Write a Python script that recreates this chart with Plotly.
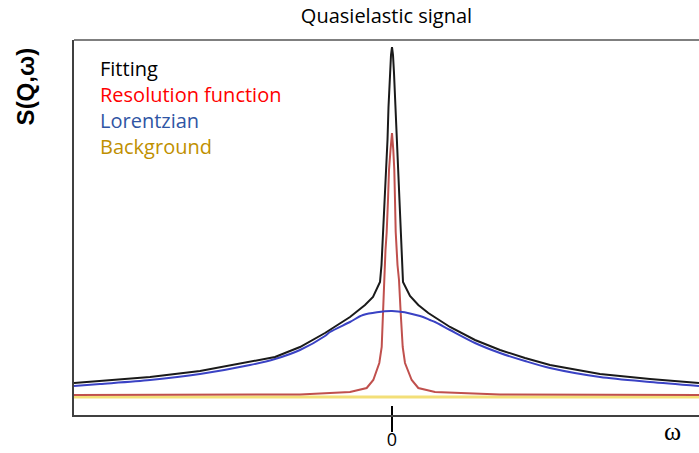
import plotly.graph_objects as go

# ---- data (omega in arbitrary units, intensity in arbitrary units) ----
fit_omega = [-3.18, -2.92, -2.42, -1.92, -1.42, -1.17, -0.92, -0.67, -0.42, -0.37, -0.27, -0.19,
             -0.12, -0.105, -0.09, -0.075, -0.055, -0.045, -0.035, -0.02, -0.01, 0.0,
             0.01, 0.02, 0.035, 0.048, 0.06, 0.075, 0.09, 0.103, 0.11, 0.18, 0.263,
             0.363, 0.58, 0.83, 1.08, 1.33, 1.58, 2.08, 2.58, 3.07]
fit_int = [0.32, 0.34, 0.38, 0.44, 0.53, 0.58, 0.68, 0.82, 0.98, 1.02, 1.10, 1.18,
           1.33, 1.50, 1.83, 2.15, 2.45, 2.75, 3.08, 3.42, 3.60, 3.68,
           3.60, 3.42, 3.08, 2.75, 2.45, 2.15, 1.83, 1.50, 1.33, 1.19, 1.10,
           1.02, 0.88, 0.75, 0.65, 0.57, 0.50, 0.41, 0.36, 0.32]

res_omega = [-3.18, -1.92, -0.92, -0.42, -0.253, -0.187, -0.127, -0.103, -0.087, -0.077,
             -0.065, -0.053, -0.04, -0.03, -0.015, 0.0, 0.013, 0.023, 0.03, 0.037,
             0.055, 0.07, 0.087, 0.107, 0.13, 0.197, 0.263, 0.43, 1.08, 2.08, 3.07]
res_int = [0.20, 0.20, 0.205, 0.23, 0.27, 0.35, 0.52, 0.68, 1.02, 1.35,
           1.65, 1.83, 2.15, 2.45, 2.65, 2.82, 2.65, 2.45, 2.15, 1.83,
           1.50, 1.35, 1.02, 0.68, 0.52, 0.35, 0.27, 0.23, 0.205, 0.20, 0.20]

lor_omega = [-3.18, -2.92, -2.42, -1.92, -1.42, -1.17, -0.92, -0.67, -0.62, -0.42, -0.29, 0.0,
             0.28, 0.38, 0.43, 0.58, 0.83, 1.08, 1.33, 1.58, 2.08, 2.58, 3.07]
lor_int = [0.29, 0.31, 0.35, 0.41, 0.50, 0.56, 0.65, 0.79, 0.83, 0.93, 1.00, 1.04,
           0.99, 0.95, 0.93, 0.85, 0.72, 0.62, 0.54, 0.47, 0.38, 0.33, 0.29]

bg_omega = [-3.18, 3.07]
bg_int = [0.18, 0.18]

legend_labels = ["Fitting", "Resolution function", "Lorentzian", "Background"]
legend_colors = ["#000000", "#ff0000", "#2f55a4", "#bf9000"]

x_range = [-3.18, 3.07]
y_range = [0, 3.75]

fig = go.Figure()
fig.add_trace(go.Scatter(x=bg_omega, y=bg_int, mode="lines",
                         line=dict(color="#f3df78", width=3), hoverinfo="skip"))
fig.add_trace(go.Scatter(x=res_omega, y=res_int, mode="lines",
                         line=dict(color="#c0504d", width=2), hoverinfo="skip"))
fig.add_trace(go.Scatter(x=lor_omega, y=lor_int, mode="lines", line_shape="spline",
                         line=dict(color="#3a42c4", width=2, smoothing=0.8), hoverinfo="skip"))
fig.add_trace(go.Scatter(x=fit_omega, y=fit_int, mode="lines",
                         line=dict(color="#1a1a1a", width=2), hoverinfo="skip"))

legend_text = "<br>".join(
    f"<span style='color:{c}'>{t}</span>" for t, c in zip(legend_labels, legend_colors))

annotations = [
    dict(text=legend_text, x=0.038, y=0.821, xref="paper", yref="paper",
         xanchor="left", yanchor="middle", align="left", showarrow=False,
         font=dict(family="Open Sans", size=20, color="#000")),
    dict(text="ω", x=0.958, y=-0.045, xref="paper", yref="paper",
         xanchor="center", yanchor="middle", showarrow=False,
         font=dict(family="Liberation Serif", size=26, color="#000")),
    dict(text="<b>S(Q,ω)</b>", x=-0.078, y=0.877, xref="paper", yref="paper",
         xanchor="center", yanchor="middle", showarrow=False, textangle=-90,
         font=dict(family="Liberation Sans", size=24, color="#000")),
]

fig.update_layout(
    width=699, height=453,
    margin=dict(l=74, r=0, t=40, b=38, autoexpand=False),
    paper_bgcolor="white", plot_bgcolor="white",
    showlegend=False,
    title=dict(text="Quasielastic signal", x=0.5, xref="paper", y=1 - 16 / 453,
               yref="container", xanchor="center", yanchor="middle",
               font=dict(family="Open Sans", size=20, color="#000")),
    xaxis=dict(range=x_range, showgrid=False, zeroline=False, showline=True,
               automargin=False,
               linecolor="#404040", linewidth=2, tickvals=[0], ticktext=["0"],
               ticks="outside", ticklen=15, tickwidth=2, tickcolor="#000",
               ticklabelstandoff=-8,
               tickfont=dict(family="Open Sans", size=18, color="#000")),
    yaxis=dict(range=y_range, showgrid=False, zeroline=False, showline=True,
               automargin=False,
               linecolor="#404040", linewidth=2, showticklabels=False, ticks=""),
    annotations=annotations,
    shapes=[
        dict(type="line", xref="paper", yref="paper", x0=0, x1=1, y0=1, y1=1,
             line=dict(color="#7f7f7f", width=2)),
        dict(type="line", xref="x", yref="paper", x0=0, x1=0, y0=0, y1=0.024,
             line=dict(color="#000", width=2)),
    ],
)

fig.write_html("out.html")
